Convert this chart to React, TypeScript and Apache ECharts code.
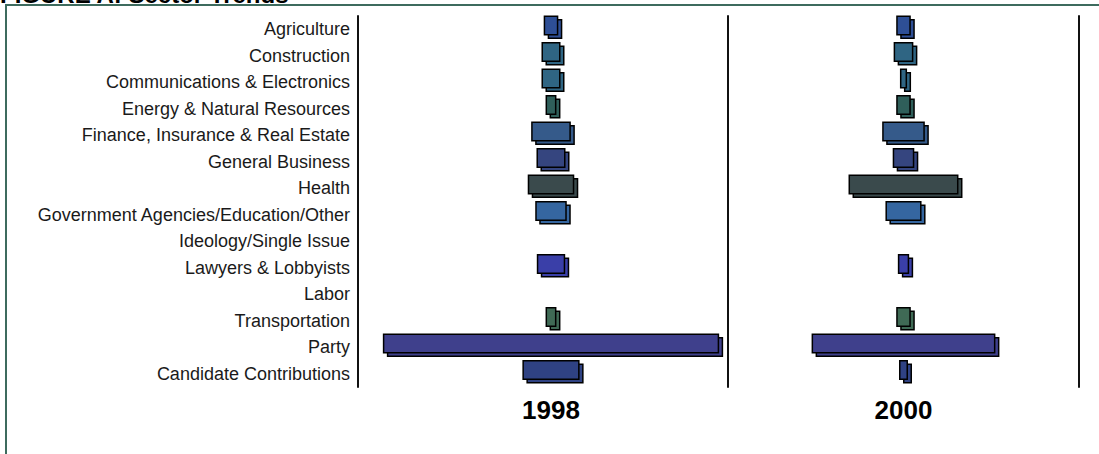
import React, { useEffect, useRef } from "react";
import * as echarts from "echarts";

const categories = [
  "Agriculture",
  "Construction",
  "Communications & Electronics",
  "Energy & Natural Resources",
  "Finance, Insurance & Real Estate",
  "General Business",
  "Health",
  "Government Agencies/Education/Other",
  "Ideology/Single Issue",
  "Lawyers & Lobbyists",
  "Labor",
  "Transportation",
  "Party",
  "Candidate Contributions",
];

// share of each year's total (%)
const values1998 = [2.1, 2.8, 2.8, 1.5, 6.1, 4.4, 7.2, 4.8, 0, 4.3, 0, 1.5, 53.5, 8.9];
const values2000 = [2.8, 3.9, 1.2, 2.8, 8.8, 4.3, 23.2, 7.4, 0, 2.1, 0, 2.8, 39.0, 1.6];

const years = ["1998", "2000"];

const barColors = [
  "#2e4f96",
  "#2f6583",
  "#2f6583",
  "#2f5f5a",
  "#355a8a",
  "#35457f",
  "#3a4a4c",
  "#3566a0",
  "#3a4a8a",
  "#3a3fa8",
  "#3a4a8a",
  "#3f6a55",
  "#3f408c",
  "#2f4283",
];

const renderBar = (params: any, api: any) => {
  const idx = api.value(0);
  const v = api.value(1);
  if (!v) return null;
  const l = api.coord([-v / 2, idx]);
  const r = api.coord([v / 2, idx]);
  const cy = l[1];
  const top = cy - 13;
  const h = 18.5;
  const dx = 4;
  const dy = 3.5;
  const w = r[0] - l[0];
  const color = barColors[params.dataIndex];
  return {
    type: "group",
    children: [
      {
        type: "rect",
        shape: { x: l[0] + dx, y: top + dy, width: w, height: h },
        style: { fill: color, stroke: "#000", lineWidth: 1.5 },
      },
      {
        type: "rect",
        shape: { x: l[0], y: top, width: w, height: h },
        style: { fill: color, stroke: "#000", lineWidth: 1.5 },
      },
    ],
  };
};

export default function App() {
  const ref = useRef<HTMLDivElement>(null);
  useEffect(() => {
    if (!ref.current) return;
    const chart = echarts.init(ref.current, null, { renderer: "svg" });
    const yearName = {
      fontFamily: "Liberation Sans",
      fontWeight: "bold" as const,
      fontSize: 26,
      color: "#000",
      verticalAlign: "middle" as const,
    };
    const catAxisBase = {
      type: "category" as const,
      data: categories,
      inverse: true,
      axisTick: { show: false },
      splitLine: { show: false },
      axisLine: { show: true, onZero: false, lineStyle: { color: "#111", width: 2 } },
    };
    chart.setOption({
      animation: false,
      backgroundColor: "#fff",
      grid: [
        { left: 358, top: 16, width: 386, height: 371 },
        { left: 728, top: 16, width: 351, height: 371 },
      ],
      xAxis: [
        {
          gridIndex: 0,
          type: "value",
          min: -30.84,
          max: 30.84,
          axisLine: { show: false },
          axisTick: { show: false },
          axisLabel: { show: false },
          splitLine: { show: false },
          name: years[0],
          nameLocation: "middle",
          nameGap: 23,
          nameTextStyle: yearName,
        },
        {
          gridIndex: 1,
          type: "value",
          min: -37.54,
          max: 37.54,
          axisLine: { show: false },
          axisTick: { show: false },
          axisLabel: { show: false },
          splitLine: { show: false },
          name: years[1],
          nameLocation: "middle",
          nameGap: 23,
          nameTextStyle: yearName,
        },
      ],
      yAxis: [
        {
          ...catAxisBase,
          gridIndex: 0,
          position: "left",
          axisLabel: {
            show: true,
            margin: 8,
            fontFamily: "Liberation Sans",
            fontSize: 18,
            color: "#1a1a1a",
          },
        },
        {
          ...catAxisBase,
          gridIndex: 1,
          position: "left",
          axisLabel: { show: false },
        },
        {
          ...catAxisBase,
          gridIndex: 1,
          position: "right",
          axisLabel: { show: false },
        },
      ],
      series: [
        {
          type: "custom",
          xAxisIndex: 0,
          yAxisIndex: 0,
          renderItem: renderBar,
          encode: { y: 0, x: 1 },
          data: values1998.map((v, i) => [i, v]),
        },
        {
          type: "custom",
          xAxisIndex: 1,
          yAxisIndex: 1,
          renderItem: renderBar,
          encode: { y: 0, x: 1 },
          data: values2000.map((v, i) => [i, v]),
        },
      ],
      graphic: [
        {
          type: "rect",
          shape: { x: 6, y: 5, width: 1300, height: 700 },
          style: { fill: "none", stroke: "#3d6b5e", lineWidth: 2 },
          silent: true,
        },
        {
          type: "text",
          x: 0,
          y: -6,
          style: {
            text: "FIGURE A: Sector Trends",
            fontFamily: "Liberation Sans",
            fontWeight: "bold",
            fontSize: 24,
            fill: "#000",
            verticalAlign: "middle",
          },
          silent: true,
        },
      ],
    });
    return () => chart.dispose();
  }, []);
  return (
    <div
      ref={ref}
      style={{ position: "absolute", left: 0, top: 0, width: 1099, height: 454 }}
    />
  );
}
